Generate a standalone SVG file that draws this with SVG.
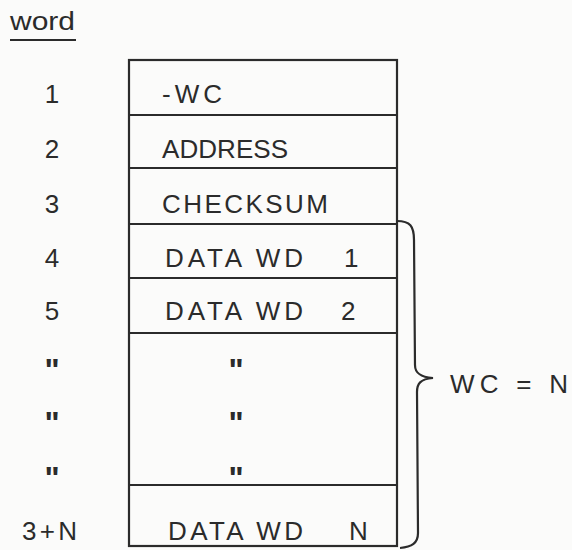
<svg xmlns="http://www.w3.org/2000/svg" width="572" height="550" viewBox="0 0 572 550">
<style>
text{font-family:"Liberation Sans",Arial,sans-serif;font-size:26px;fill:#2b2b2b}
.num{text-anchor:middle}
.ditto{font-size:32px;font-weight:bold;text-anchor:middle}
.ln{stroke:#2b2b2b;stroke-width:2.2;fill:none}
</style>
<rect width="572" height="550" fill="#fbfbfa"/>
<g id="header">
<text x="10" y="30" textLength="65" lengthAdjust="spacingAndGlyphs">word</text>
<line class="ln" x1="10" y1="40" x2="76" y2="40"/>
</g>
<g id="frame">
<rect class="ln" x="129" y="60" width="268" height="486"/>
</g>
<g id="row1">
<line class="ln" x1="129" y1="115" x2="397" y2="115"/>
<text class="num" x="52" y="103">1</text>
<text x="162" y="103" textLength="60" lengthAdjust="spacing">-WC</text>
</g>
<g id="row2">
<line class="ln" x1="129" y1="168" x2="397" y2="168"/>
<text class="num" x="52" y="158">2</text>
<text x="162" y="158" textLength="126" lengthAdjust="spacing">ADDRESS</text>
</g>
<g id="row3">
<line class="ln" x1="129" y1="224" x2="397" y2="224"/>
<text class="num" x="52" y="213">3</text>
<text x="162" y="213" textLength="166" lengthAdjust="spacing">CHECKSUM</text>
</g>
<g id="row4">
<line class="ln" x1="129" y1="278" x2="397" y2="278"/>
<text class="num" x="52" y="267">4</text>
<text x="165" y="267" textLength="138" lengthAdjust="spacing">DATA WD</text>
<text x="344" y="267">1</text>
</g>
<g id="row5">
<line class="ln" x1="129" y1="333" x2="397" y2="333"/>
<text class="num" x="52" y="320">5</text>
<text x="165" y="320" textLength="138" lengthAdjust="spacing">DATA WD</text>
<text x="341" y="320">2</text>
</g>
<g id="row-ditto">
<line class="ln" x1="129" y1="485" x2="397" y2="485"/>
<text class="ditto" x="52" y="381">"</text>
<text class="ditto" x="236" y="381">"</text>
<text class="ditto" x="52" y="434">"</text>
<text class="ditto" x="236" y="434">"</text>
<text class="ditto" x="52" y="489">"</text>
<text class="ditto" x="236" y="489">"</text>
</g>
<g id="rowN">
<text x="22" y="540" textLength="55" lengthAdjust="spacing">3+N</text>
<text x="168" y="540" textLength="135" lengthAdjust="spacing">DATA WD</text>
<text x="349" y="540">N</text>
</g>
<g id="connectors">
<path class="ln" d="M397,221 C410,221 414,226 414,240 L415,365 C415,373 420,377 433,378 C420,379 417,384 417,392 L418,533 C418,543 412,547 400,548"/>
</g>
<g id="label">
<text x="450" y="393" textLength="118" lengthAdjust="spacing">WC = N</text>
</g>
</svg>
